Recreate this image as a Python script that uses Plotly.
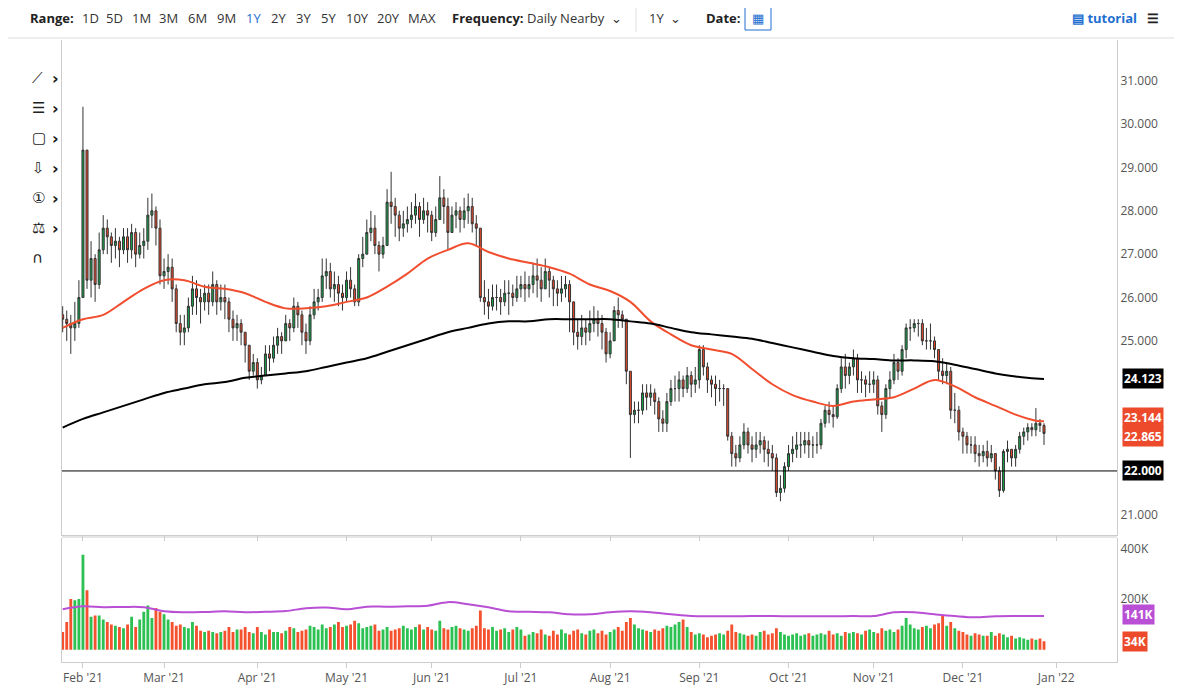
import pandas as pd
import plotly.graph_objects as go
from plotly.subplots import make_subplots

# daily closes / highs / lows, one row per week (Mon-Fri), Jan 25 - Dec 29 2021
closes = [
    25.5, 25.4, 25.3, 25.4, 26.0,  29.4, 26.4, 26.9, 26.3, 27.1,
    27.6, 27.4, 27.2, 27.3, 27.1,  27.4, 27.1, 27.5, 27.0, 27.2,
    27.3, 27.9, 28.0, 27.6, 26.5,  26.6, 26.7, 26.2, 25.4, 25.2,
    25.3, 25.8, 26.2, 26.0, 25.9,  26.1, 25.9, 26.3, 25.9, 26.0,
    25.9, 25.5, 25.3, 25.4, 25.2,  24.9, 24.3, 24.5, 24.1, 24.2,
    24.7, 24.6, 24.9, 25.1, 25.0,  25.4, 25.3, 25.8, 25.6, 25.2,
    25.0, 25.6, 25.9, 26.0, 26.5,  26.6, 26.2, 26.3, 26.1, 26.0,
    26.4, 26.2, 25.9, 26.9, 27.0,  27.5, 27.6, 27.2, 27.0, 27.2,
    28.2, 28.1, 27.9, 27.6, 27.7,  27.8, 27.9, 28.1, 27.8, 28.0,
    27.9, 27.5, 27.8, 28.3, 28.1,  27.5, 27.9, 28.0, 27.8, 28.0,
    28.1, 27.7, 27.6, 26.0, 25.9,  25.8, 26.0, 26.0, 25.9, 26.1,
    26.1, 26.0, 26.2, 26.3, 26.2,  26.3, 26.5, 26.4, 26.2, 26.6,
    26.4, 26.2, 26.1, 26.2, 26.3,  25.9, 25.2, 25.1, 25.3, 25.2,
    25.4, 25.5, 25.4, 25.2, 24.7,  25.0, 25.7, 25.6, 25.5, 24.3,
    23.3, 23.4, 23.4, 23.8, 23.7,  23.8, 23.6, 23.2, 23.1, 23.6,
    23.9, 23.9, 24.1, 23.9, 24.2,  24.0, 24.1, 24.8, 24.4, 24.1,
    24.0, 23.9, 23.9, 23.9, 22.8,  22.4, 22.3, 22.6, 22.9, 22.6,
    22.5, 22.6, 22.7, 22.5, 22.4,  22.3, 21.5, 21.6, 22.1, 22.4,
    22.5, 22.6, 22.6, 22.7, 22.6,  22.6, 22.6, 23.1, 23.4, 23.3,
    23.25, 23.9, 24.4, 24.2, 24.4,  24.6, 24.1, 24.1, 24.0, 24.0,
    24.1, 23.5, 23.3, 23.9, 24.1,  24.5, 24.3, 24.8, 25.3, 25.3,
    25.4, 25.4, 25.0, 25.0, 25.0,  24.8, 24.3, 24.2, 24.3, 23.4,
    23.4, 22.9, 22.8, 22.6, 22.6,  22.4, 22.35, 22.45, 22.3, 22.4,
    22.0, 21.55, 22.45, 22.5, 22.3,  22.5, 22.8, 22.9, 23.0, 22.95,
    23.1, 23.05, 22.865,
]
highs = [
    25.8, 25.7, 25.6, 25.9, 26.4,  30.4, 29.3, 27.3, 27.0, 27.5,
    27.9, 27.8, 27.5, 27.6, 27.4,  27.6, 27.6, 27.7, 27.6, 27.5,
    27.6, 28.3, 28.4, 28.1, 27.8,  26.9, 27.0, 26.9, 26.3, 25.6,
    25.6, 26.0, 26.5, 26.4, 26.2,  26.3, 26.3, 26.6, 26.4, 26.3,
    26.3, 26.0, 25.7, 25.6, 25.5,  25.2, 24.9, 24.7, 24.6, 24.4,
    24.9, 24.9, 25.1, 25.3, 25.2,  25.6, 25.5, 26.0, 25.9, 25.7,
    25.4, 25.8, 26.2, 26.2, 26.9,  26.9, 26.8, 26.6, 26.5, 26.3,
    26.6, 26.7, 26.3, 27.0, 27.4,  27.8, 28.0, 27.9, 27.3, 27.4,
    28.5, 28.9, 28.3, 28.0, 28.0,  28.1, 28.2, 28.4, 28.2, 28.3,
    28.2, 28.0, 28.1, 28.8, 28.5,  28.3, 28.1, 28.2, 28.1, 28.3,
    28.4, 28.3, 27.9, 27.6, 26.4,  26.2, 26.3, 26.3, 26.2, 26.4,
    26.4, 26.3, 26.5, 26.5, 26.6,  26.5, 26.8, 26.9, 26.7, 26.9,
    26.7, 26.5, 26.4, 26.5, 26.5,  26.4, 25.9, 25.5, 25.6, 25.5,
    25.7, 25.8, 25.7, 25.6, 25.3,  25.2, 25.8, 26.0, 25.7, 25.5,
    24.3, 23.6, 23.6, 24.0, 24.0,  24.0, 23.9, 23.7, 23.4, 23.8,
    24.1, 24.2, 24.3, 24.2, 24.4,  24.3, 24.4, 24.9, 24.9, 24.5,
    24.2, 24.2, 24.1, 24.0, 23.9,  22.9, 22.6, 22.8, 23.1, 23.0,
    22.8, 22.9, 22.9, 22.8, 22.7,  22.6, 22.4, 21.9, 22.2, 22.6,
    22.8, 22.9, 22.9, 22.9, 22.9,  22.8, 22.9, 23.2, 23.5, 23.6,
    23.5, 24.0, 24.6, 24.7, 24.5,  24.8, 24.7, 24.3, 24.2, 24.3,
    24.3, 24.2, 23.6, 24.0, 24.3,  24.7, 24.6, 24.9, 25.4, 25.5,
    25.5, 25.5, 25.5, 25.3, 25.4,  25.1, 24.8, 24.6, 24.5, 24.4,
    23.8, 23.5, 23.0, 22.9, 22.8,  22.8, 22.6, 22.6, 22.7, 22.6,
    22.3, 22.1, 22.5, 22.7, 22.5,  22.6, 22.9, 23.0, 23.1, 23.1,
    23.45, 23.2, 23.1,
]
lows = [
    25.2, 25.0, 24.7, 25.0, 25.3,  26.0, 26.2, 26.0, 25.9, 26.2,
    27.0, 27.0, 26.8, 26.9, 26.7,  27.0, 26.8, 26.9, 26.7, 26.9,
    26.9, 27.1, 27.6, 27.2, 26.3,  26.2, 26.3, 25.9, 25.2, 24.9,
    24.9, 25.2, 25.6, 25.6, 25.4,  25.7, 25.6, 25.8, 25.6, 25.7,
    25.5, 25.2, 25.0, 25.0, 24.9,  24.5, 24.1, 24.2, 23.9, 24.0,
    24.2, 24.3, 24.5, 24.7, 24.7,  25.0, 25.0, 25.2, 25.3, 24.9,
    24.7, 24.9, 25.5, 25.7, 25.9,  26.2, 26.0, 25.9, 25.8, 25.7,
    25.9, 26.0, 25.8, 25.8, 26.7,  27.0, 27.3, 27.0, 26.6, 26.9,
    27.2, 27.7, 27.4, 27.3, 27.4,  27.5, 27.6, 27.7, 27.4, 27.7,
    27.5, 27.3, 27.4, 27.8, 27.7,  27.1, 27.5, 27.6, 27.5, 27.6,
    27.7, 27.5, 27.2, 25.9, 25.6,  25.5, 25.7, 25.7, 25.6, 25.8,
    25.6, 25.8, 25.9, 26.0, 25.9,  26.0, 26.1, 26.0, 25.9, 26.2,
    26.0, 25.8, 25.8, 25.9, 26.0,  25.2, 24.9, 24.8, 24.9, 24.9,
    25.0, 25.2, 25.1, 24.8, 24.5,  24.6, 25.0, 25.3, 25.3, 24.0,
    22.3, 23.1, 23.1, 23.3, 23.4,  23.5, 23.3, 22.9, 22.9, 22.9,
    23.5, 23.6, 23.6, 23.7, 23.8,  23.7, 23.8, 23.9, 24.2, 23.8,
    23.7, 23.5, 23.6, 23.5, 22.7,  22.1, 22.1, 22.2, 22.5, 22.4,
    22.2, 22.3, 22.4, 22.2, 22.1,  22.0, 21.4, 21.3, 21.5, 22.0,
    22.2, 22.3, 22.3, 22.4, 22.3,  22.3, 22.4, 22.5, 23.0, 23.1,
    23.0, 23.2, 23.8, 23.9, 24.0,  24.2, 23.8, 23.8, 23.7, 23.8,
    23.8, 23.3, 22.9, 23.2, 23.7,  24.0, 24.1, 24.2, 24.6, 25.0,
    25.2, 25.1, 24.9, 24.8, 24.8,  24.6, 24.1, 24.0, 24.0, 23.2,
    23.1, 22.7, 22.4, 22.4, 22.4,  22.2, 22.1, 22.2, 22.1, 22.2,
    21.8, 21.4, 21.5, 22.2, 22.1,  22.1, 22.4, 22.6, 22.7, 22.8,
    22.8, 22.9, 22.6,
]
volumes_k = [
    70, 110, 200, 195, 200,  375, 235, 130, 135, 135,
    120, 110, 100, 95, 90,  85, 100, 130, 90, 120,
    150, 175, 125, 165, 150,  140, 120, 110, 95, 100,
    90, 85, 110, 95, 75,  70, 75, 70, 65, 70,
    75, 90, 70, 80, 80,  90, 70, 65, 90, 70,
    60, 80, 70, 70, 65,  75, 90, 85, 70, 75,
    80, 95, 90, 80, 100,  85, 90, 100, 110, 90,
    95, 100, 115, 105, 85,  90, 95, 100, 75, 80,
    90, 75, 80, 85, 95,  85, 80, 90, 100, 80,
    90, 80, 75, 115, 85,  80, 90, 95, 85, 80,
    75, 85, 95, 155, 85,  80, 90, 75, 80, 85,
    70, 80, 90, 80, 55,  60, 70, 65, 80, 60,
    55, 75, 60, 80, 65,  60, 75, 80, 65, 60,
    75, 80, 65, 75, 60,  70, 80, 90, 75, 110,
    125, 100, 85, 80, 75,  70, 80, 75, 85, 95,
    90, 100, 110, 120, 90,  70, 60, 65, 60, 50,
    55, 60, 65, 60, 75,  100, 70, 65, 60, 55,
    60, 55, 70, 75, 60,  65, 85, 70, 60, 55,
    60, 65, 55, 60, 65,  55, 60, 65, 60, 75,
    60, 65, 55, 70, 65,  70, 65, 60, 75, 80,
    70, 65, 85, 75, 80,  70, 80, 95, 125, 100,
    85, 80, 90, 95, 85,  100, 105, 135, 95, 110,
    85, 75, 70, 60, 55,  65, 60, 55, 55, 70,
    55, 65, 60, 50, 55,  45, 50, 45, 40, 45,
    40, 45, 34,
]

# weekly readings of the moving averages (Mondays, plus last day)
ma_dates = list(pd.date_range("2021-01-25", "2021-12-27", freq="W-MON")) + [pd.Timestamp("2021-12-29")]
ma50 = [25.3, 25.5, 25.6, 25.9, 26.2, 26.4, 26.4, 26.25, 26.2, 26.1,
        25.9, 25.75, 25.75, 25.8, 25.9, 26.0, 26.25, 26.55, 26.9, 27.1,
        27.25, 27.05, 26.9, 26.8, 26.7, 26.55, 26.3, 26.15, 25.9, 25.45,
        25.15, 24.9, 24.8, 24.7, 24.35, 24.0, 23.75, 23.6, 23.5, 23.6,
        23.65, 23.7, 23.9, 24.1, 23.95, 23.7, 23.5, 23.3, 23.16, 23.144]
ma200 = [23.0, 23.2, 23.35, 23.5, 23.65, 23.8, 23.9, 24.0, 24.05, 24.15,
         24.2, 24.25, 24.3, 24.4, 24.5, 24.6, 24.75, 24.9, 25.05, 25.2,
         25.3, 25.4, 25.45, 25.45, 25.5, 25.5, 25.5, 25.5, 25.45, 25.4,
         25.3, 25.2, 25.15, 25.1, 25.05, 24.95, 24.85, 24.75, 24.65, 24.6,
         24.58, 24.55, 24.55, 24.53, 24.45, 24.35, 24.25, 24.18, 24.13, 24.123]
vol_avg_k = [160, 172, 168, 169, 168, 152, 148, 149, 152, 148,
             150, 153, 164, 167, 160, 170, 170, 172, 174, 188,
             180, 168, 152, 150, 148, 140, 140, 148, 152, 148,
             140, 133, 132, 132, 133, 133, 132, 132, 132, 133,
             133, 148, 148, 140, 133, 128, 132, 133, 133, 133]
price_ticks = [21, 25, 26, 27, 28, 29, 30, 31]

dates = pd.bdate_range("2021-01-25", "2021-12-29")
opens = [25.6] + closes[:-1]
highs = [max(h, o, c) for h, o, c in zip(highs, opens, closes)]
lows = [min(l, o, c) for l, o, c in zip(lows, opens, closes)]
GREEN, RED = "#16a34a", "#ec4a2b"
vol_colors = ["#2cc152" if c >= o else "#f4512f" for o, c in zip(opens, closes)]

fig = make_subplots(rows=2, cols=1, shared_xaxes=True, vertical_spacing=0.005,
                    row_heights=[0.8, 0.2])
fig.add_trace(go.Candlestick(x=dates, open=opens, high=highs, low=lows, close=closes,
                             increasing=dict(fillcolor=GREEN, line=dict(color="#333", width=1)),
                             decreasing=dict(fillcolor=RED, line=dict(color="#333", width=1)),
                             whiskerwidth=0, showlegend=False), row=1, col=1)
fig.add_trace(go.Scatter(x=ma_dates, y=ma50, mode="lines", line=dict(color="#f04e2f", width=2),
                         line_shape="spline", showlegend=False), row=1, col=1)
fig.add_trace(go.Scatter(x=ma_dates, y=ma200, mode="lines", line=dict(color="#000", width=2),
                         line_shape="spline", showlegend=False), row=1, col=1)
fig.add_trace(go.Bar(x=dates, y=volumes_k, marker_color=vol_colors, marker_line_width=0,
                     showlegend=False), row=2, col=1)
fig.add_trace(go.Scatter(x=ma_dates, y=vol_avg_k, mode="lines", line=dict(color="#b84fd4", width=2),
                         line_shape="spline", showlegend=False), row=2, col=1)

fig.add_hline(y=22.0, line=dict(color="#000", width=1), row=1, col=1)

font = "Open Sans, Noto Sans, sans-serif"
# page has an 8px body margin, so the figure is 8px smaller and shifted
fig.update_layout(
    width=1174, height=691, margin=dict(l=54, r=65, t=32, b=37),
    paper_bgcolor="white", plot_bgcolor="white",
    font=dict(family=font, size=12, color="#444"),
    bargap=0.3,
)
fig.update_xaxes(rangebreaks=[dict(bounds=["sat", "mon"])],
                 range=["2021-01-22 20:00", "2022-01-24"],
                 rangeslider_visible=False, showgrid=False, showline=True, linecolor="#ccc",
                 ticks="outside", tickcolor="#ccc", tickformat="%b '%y", dtick="M1",
                 tickfont=dict(size=12, color="#555"))
fig.update_xaxes(showticklabels=False, row=1, col=1)
fig.update_yaxes(side="right", showgrid=False, zeroline=False, showline=True, linecolor="#ccc",
                 mirror=True, tickfont=dict(size=12, color="#555"))
fig.update_yaxes(range=[20.52, 31.94], tickvals=price_ticks,
                 ticktext=[f"{v:.3f}" for v in price_ticks], row=1, col=1)
fig.update_yaxes(range=[-48, 440], tickvals=[200, 400], ticktext=["200K", "400K"], row=2, col=1)


def px(x):
    return (x - 62) / 1055


def py(y):
    return (662 - y) / 622


def tag(text, yval, yref, color):
    fig.add_annotation(x=1.005, y=yval, xref="paper", yref=yref, text=f"<b>{text}</b>",
                       showarrow=False, xanchor="left", bgcolor=color, borderpad=1,
                       font=dict(color="white", size=12, family=font))


tag("24.123", 24.123, "y", "#000")
tag("23.144", 23.24, "y", RED)
tag("22.865", 22.8, "y", RED)
tag("22.000", 22.0, "y", "#000")
tag("141K", 141, "y2", "#b84fd4")
tag("34K", 34, "y2", RED)

# top toolbar
toolbar = [(28, "<b>Range:</b>", "#222"), (80, "1D", "#333"), (104, "5D", "#333"), (130, "1M", "#333"),
           (157, "3M", "#333"), (186, "6M", "#333"), (215, "9M", "#333"), (244, "1Y", "#1e6fd0"),
           (269, "2Y", "#333"), (294, "3Y", "#333"), (319, "5Y", "#333"), (344, "10Y", "#333"),
           (375, "20Y", "#333"), (406, "MAX", "#333"), (450, "<b>Frequency:</b>", "#222"),
           (525, "Daily Nearby  ⌄", "#333"), (647, "1Y  ⌄", "#333"), (704, "<b>Date:</b>", "#222"),
           (1070, "<b>▤ tutorial</b>", "#1e6fd0"), (1145, "<b>☰</b>", "#222")]
for x, t, c in toolbar:
    fig.add_annotation(x=px(x), y=py(18), xref="paper", yref="paper", text=t, showarrow=False,
                       xanchor="left", yanchor="middle", font=dict(size=13, color=c, family=font))
fig.add_shape(type="rect", xref="paper", yref="paper", x0=px(745), x1=px(771), y0=py(30), y1=py(6),
              line=dict(color="#1e6fd0", width=1))
fig.add_annotation(x=px(758), y=py(18), xref="paper", yref="paper", text="▦", showarrow=False,
                   yanchor="middle", font=dict(size=13, color="#1e6fd0"))
fig.add_shape(type="line", xref="paper", yref="paper", x0=px(8), x1=px(1182), y0=py(38), y1=py(38),
              line=dict(color="#ddd", width=1))
fig.add_shape(type="line", xref="paper", yref="paper", x0=px(62), x1=px(1117), y0=py(537), y1=py(537),
              line=dict(color="#ccc", width=1))
fig.add_shape(type="line", xref="paper", yref="paper", x0=px(636), x1=px(636), y0=py(6), y1=py(32),
              line=dict(color="#ddd", width=1))

# left drawing tools
icons = ["⟋", "☰", "▢", "⇩", "①", "⚖", "∩"]
for i, ic in enumerate(icons):
    yy = 67 + 30 * i
    fig.add_annotation(x=px(30), y=py(yy), xref="paper", yref="paper", text=ic, showarrow=False,
                       font=dict(size=15, color="#222", family="DejaVu Sans"))
    if i < 6:
        fig.add_annotation(x=px(50), y=py(yy), xref="paper", yref="paper", text="<b>›</b>",
                           showarrow=False, font=dict(size=16, color="#111", family="DejaVu Sans"))

fig.write_html("out.html")
